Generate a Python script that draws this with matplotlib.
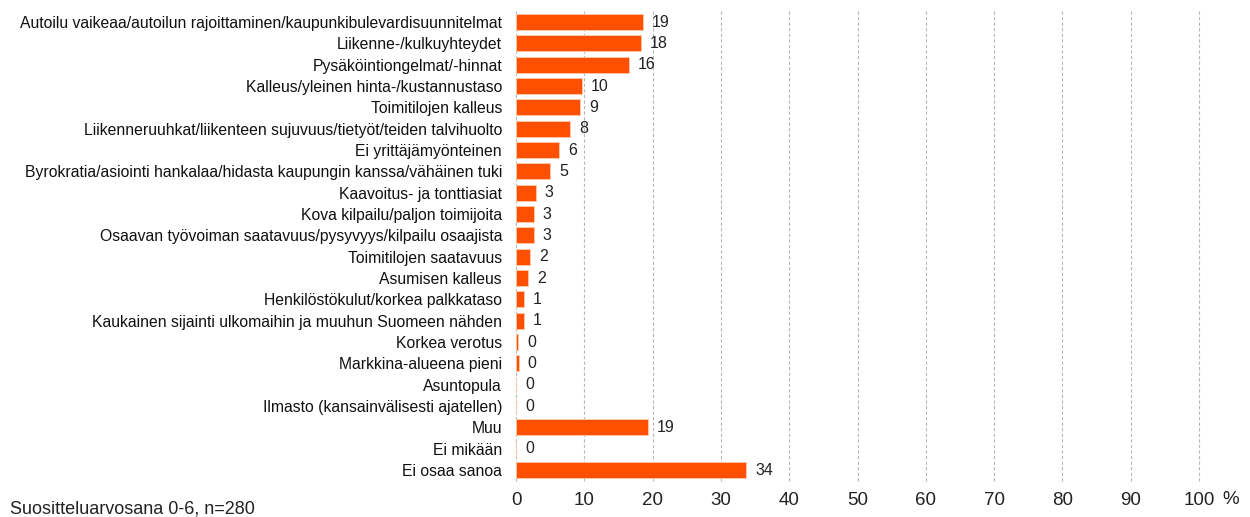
import numpy as np
import matplotlib
matplotlib.use('Agg')
import matplotlib.pyplot as plt

plt.rcParams['font.family'] = ['Liberation Sans', 'DejaVu Sans']

# syyt, prosentit (pylvaan pituus) ja pyoristetyt arvot
categories = [
    'Autoilu vaikeaa/autoilun rajoittaminen/kaupunkibulevardisuunnitelmat',
    'Liikenne-/kulkuyhteydet',
    'Pysäköintiongelmat/-hinnat',
    'Kalleus/yleinen hinta-/kustannustaso',
    'Toimitilojen kalleus',
    'Liikenneruuhkat/liikenteen sujuvuus/tietyöt/teiden talvihuolto',
    'Ei yrittäjämyönteinen',
    'Byrokratia/asiointi hankalaa/hidasta kaupungin kanssa/vähäinen tuki',
    'Kaavoitus- ja tonttiasiat',
    'Kova kilpailu/paljon toimijoita',
    'Osaavan työvoiman saatavuus/pysyvyys/kilpailu osaajista',
    'Toimitilojen saatavuus',
    'Asumisen kalleus',
    'Henkilöstökulut/korkea palkkataso',
    'Kaukainen sijainti ulkomaihin ja muuhun Suomeen nähden',
    'Korkea verotus',
    'Markkina-alueena pieni',
    'Asuntopula',
    'Ilmasto (kansainvälisesti ajatellen)',
    'Muu',
    'Ei mikään',
    'Ei osaa sanoa',
]
values = [18.6, 18.3, 16.5, 9.7, 9.4, 7.9, 6.3, 5.0, 2.9, 2.6, 2.6, 2.1, 1.8,
          1.1, 1.1, 0.35, 0.4, 0, 0, 19.3, 0, 33.7]
labels = [19, 18, 16, 10, 9, 8, 6, 5, 3, 3, 3, 2, 2, 1, 1, 0, 0, 0, 0, 19, 0, 34]
xticks = [0, 10, 20, 30, 40, 50, 60, 70, 80, 90, 100]

fig = plt.figure(figsize=(12.5, 5.17), dpi=100)
ax = fig.add_axes([0.4128, 0.070, 0.5464, 0.908])

y = np.arange(len(categories))
ax.barh(y, values, height=0.75, color='#FF5000', edgecolor='#FFC9A8', linewidth=0.6, zorder=3)

for yi, v, lab in zip(y, values, labels):
    ax.text(v + 1.3, yi, str(lab), va='center', ha='left', fontsize=11.5, color='#222222')

ax.set_xlim(0, 100)
ax.set_ylim(len(categories) - 0.5, -0.5)
ax.set_yticks(y)
ax.set_yticklabels(categories, fontsize=11.3, color='#111111')
ax.set_xticks(xticks)
ax.set_xticklabels([str(t) for t in xticks], fontsize=13.5, color='#222222')
ax.tick_params(axis='both', length=0)
ax.tick_params(axis='y', pad=10)
ax.tick_params(axis='x', pad=8)
for s in ax.spines.values():
    s.set_visible(False)
ax.grid(axis='x', linestyle=(0, (3, 2)), color='#b8b8b8', linewidth=0.8, zorder=0, clip_on=False)

fig.text(0.9845, 0.018, '%', fontsize=13.5, color='#222222', ha='center', va='bottom')
fig.text(0.008, 0.0, 'Suositteluarvosana 0-6, n=280', fontsize=13, color='#222222', ha='left', va='bottom')

plt.savefig('out.png', dpi=100)
